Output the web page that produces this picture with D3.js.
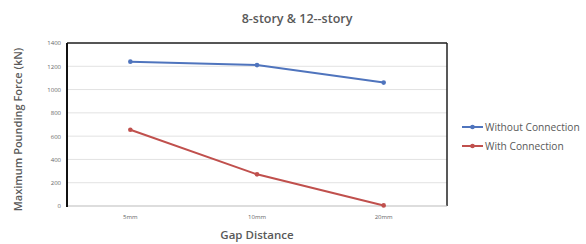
<!DOCTYPE html>
<html><head><meta charset="utf-8">
<script src="https://cdn.jsdelivr.net/npm/d3@7"></script>
<style>body{margin:0;background:#fff;} svg{display:block;font-family:"Open Sans","Noto Sans",sans-serif;}</style>
</head><body><svg id="c" width="586" height="244"></svg>
<script>
const categories = ["5mm","10mm","20mm"];
const withoutConnection = [1240, 1210, 1060];
const withConnection = [655, 272, 5];
const yTicks = [0,200,400,600,800,1000,1200,1400];
const seriesNames = ["Without Connection","With Connection"];
const colors = ["#4f74bd","#c0504d"];

const svg = d3.select("#c");
const L=67,R=447,T=43,B=206;
const x = d3.scaleBand().domain(categories).range([L,R]);
const y = d3.scaleLinear().domain([0,1400]).range([B,T]);

svg.append("g").selectAll("line").data(yTicks.slice(1)).join("line")
 .attr("x1",L).attr("x2",R).attr("y1",d=>y(d)).attr("y2",d=>y(d))
 .attr("stroke","#e2e2e2").attr("stroke-width",1);

svg.append("line").attr("x1",L).attr("x2",R).attr("y1",T).attr("y2",T).attr("stroke","#222").attr("stroke-width",1.5);
svg.append("line").attr("x1",R).attr("x2",R).attr("y1",T).attr("y2",B).attr("stroke","#222").attr("stroke-width",1.5);
svg.append("line").attr("x1",L).attr("x2",R).attr("y1",B).attr("y2",B).attr("stroke","#bbb").attr("stroke-width",1);
svg.append("line").attr("x1",L).attr("x2",L).attr("y1",T).attr("y2",B+1).attr("stroke","#111").attr("stroke-width",2);

const ya = svg.append("g").attr("transform",`translate(${L-6},0)`)
 .call(d3.axisLeft(y).tickValues(yTicks).tickFormat(d3.format("d")).tickSize(0).tickPadding(0));
ya.select(".domain").remove();
ya.selectAll("text").attr("font-size",6).attr("fill","#666").attr("font-family","'Open Sans',sans-serif");

const xa = svg.append("g").attr("transform",`translate(0,${B+9})`)
 .call(d3.axisBottom(x).tickSize(0).tickPadding(0));
xa.select(".domain").remove();
xa.selectAll("text").attr("font-size",6).attr("fill","#666").attr("font-family","'Open Sans',sans-serif");

const line = d3.line().x((d,i)=>x(categories[i])+x.bandwidth()/2).y(d=>y(d));
[withoutConnection, withConnection].forEach((s,k)=>{
  svg.append("path").datum(s).attr("d",line).attr("fill","none").attr("stroke",colors[k]).attr("stroke-width",2);
  svg.append("g").selectAll("circle").data(s).join("circle")
   .attr("cx",(d,i)=>x(categories[i])+x.bandwidth()/2).attr("cy",d=>y(d)).attr("r",2.3).attr("fill",colors[k]);
});

svg.append("text").attr("x",297).attr("y",23).attr("text-anchor","middle").attr("font-size",12.5).attr("font-weight",600).attr("fill","#595959").text("8-story & 12--story");
svg.append("text").attr("x",257).attr("y",239).attr("text-anchor","middle").attr("font-size",11.5).attr("font-weight",600).attr("fill","#595959").text("Gap Distance");
svg.append("text").attr("transform",`translate(22,${(T+B)/2+5}) rotate(-90)`).attr("text-anchor","middle").attr("font-size",11).attr("font-weight",600).attr("fill","#595959").text("Maximum Pounding Force (kN)");

const lg = svg.append("g");
seriesNames.forEach((n,k)=>{
  const yy = 127 + k*19;
  lg.append("line").attr("x1",462).attr("x2",483).attr("y1",yy).attr("y2",yy).attr("stroke",colors[k]).attr("stroke-width",2);
  lg.append("circle").attr("cx",472.5).attr("cy",yy).attr("r",2.3).attr("fill",colors[k]);
  lg.append("text").attr("x",485).attr("y",yy+3.5).attr("font-size",10.2).attr("fill","#595959").text(n);
});
</script></body></html>
